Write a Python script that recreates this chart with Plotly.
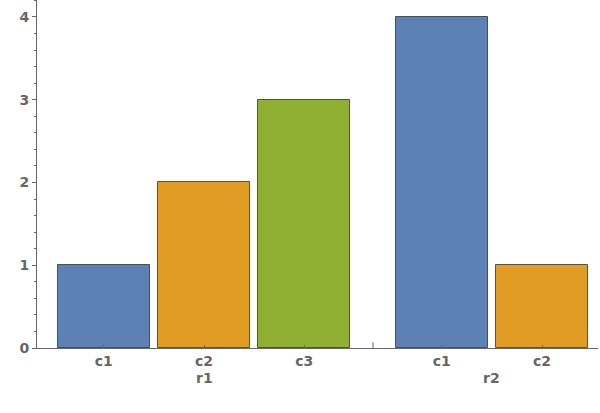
import plotly.graph_objects as go

groups = ["r1", "r2"]
categories = [["c1", "c2", "c3"], ["c1", "c2"]]
values = [[1, 2, 3], [4, 1]]
colors = {"c1": "#5E81B5", "c2": "#E19C24", "c3": "#8FB032"}

group_gap = 0.37
bar_width = 0.92

xs, ys, cols, labels = [], [], [], []
group_centers = []
dividers = []
pos = 0.0
for gi, (g, cats, vals) in enumerate(zip(groups, categories, values)):
    start = pos
    for c, v in zip(cats, vals):
        xs.append(pos)
        ys.append(v)
        cols.append(colors[c])
        labels.append(c)
        pos += 1
    group_centers.append((start + pos - 1) / 2)
    if gi < len(groups) - 1:
        dividers.append(pos - 1 + (1 + group_gap) / 2)
    pos += group_gap

fig = go.Figure()
fig.add_trace(go.Bar(
    x=xs, y=ys, width=bar_width,
    marker=dict(color=cols, line=dict(color="rgba(40,40,40,0.75)", width=1)),
    hoverinfo="skip",
))

txt = "#666666"
font = dict(family="DejaVu Sans", size=14, color=txt, weight="bold")

for d in dividers:
    fig.add_shape(type="line", xref="x", yref="y", x0=d, x1=d, y0=0, y1=0.07,
                  line=dict(color=txt, width=1))

for g, c in zip(groups, group_centers):
    fig.add_annotation(x=c, y=0, xref="x", yref="paper", text=g, showarrow=False,
                       yanchor="middle", yshift=-30, font=font)

fig.update_layout(
    width=600, height=413,
    margin=dict(l=37, r=2, t=0, b=65),
    plot_bgcolor="white", paper_bgcolor="white",
    showlegend=False,
    bargap=0,
    hovermode=False,
    xaxis=dict(
        range=[-0.665, 4.928],
        tickvals=xs, ticktext=labels,
        ticks="inside", ticklen=3, tickcolor=txt,
        showline=True, linecolor=txt, linewidth=1,
        showgrid=False, zeroline=False,
        tickfont=font, automargin=False,
        ticklabelstandoff=0,
    ),
    yaxis=dict(
        range=[0, 4.205],
        tickvals=[0, 1, 2, 3, 4],
        ticks="outside", ticklen=4, tickcolor=txt,
        showline=True, linecolor=txt, linewidth=1,
        showgrid=False, zeroline=False,
        tickfont=font, automargin=False,
        minor=dict(dtick=0.2, ticks="outside", ticklen=2, tickcolor=txt, showgrid=False),
    ),
)

fig.write_html("out.html", config={"displayModeBar": False},
               post_script="document.body.style.margin='0';")
